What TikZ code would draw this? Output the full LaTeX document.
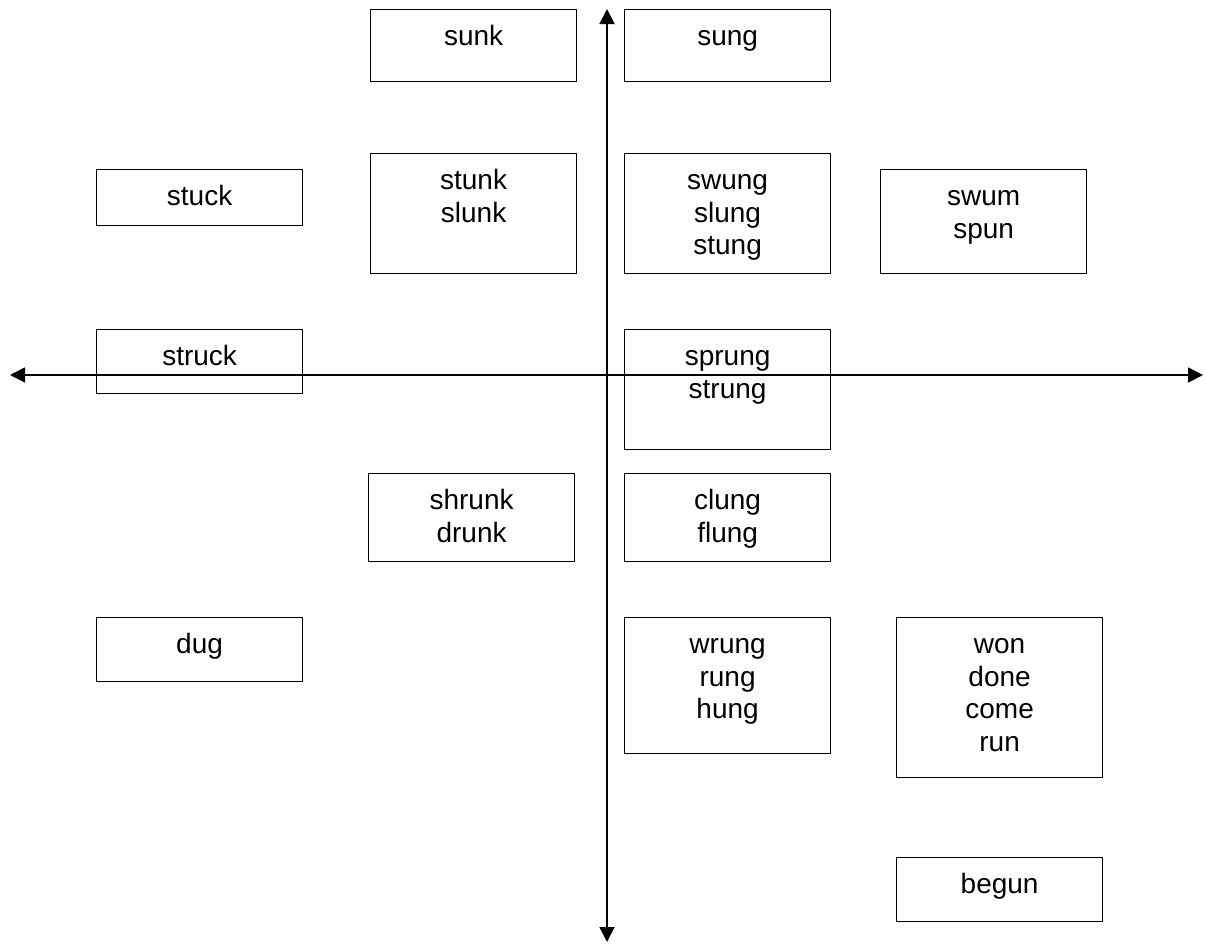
\documentclass[tikz,border=0pt]{standalone}
\usepackage{fontspec}
\setmainfont{Liberation Sans}
\usetikzlibrary{arrows.meta}
\tikzset{
  x=1pt, y=-1pt,
  wordbox/.style={draw=black, line width=1.2pt, inner sep=0pt, anchor=north west},
  words/.style={anchor=base, inner sep=0pt, font=\fontsize{28}{32.5}\selectfont},
  axis/.style={line width=1.8pt, {Triangle[length=15pt,width=15pt]}-{Triangle[length=15pt,width=15pt]}}
}
% box: name, top-left x, top-left y, width, height, lines
\newcommand{\wordbox}[6]{%
  \node[wordbox, minimum width=#4pt, minimum height=#5pt] (#1) at (#2,#3) {};
  \node[words] (#1-text) at ([yshift=-36.5pt]#1.north) {\begin{tabular}[t]{@{}c@{}}#6\end{tabular}};
}
\begin{document}
\begin{tikzpicture}
\useasboundingbox (0,0) rectangle (1206,945);
\fill[white] (0,0) rectangle (1206,945);

\wordbox{sunk}{370}{9}{206}{72}{sunk}
\wordbox{sung}{624}{9}{206}{72}{sung}
\wordbox{stuck}{96}{169}{206}{56}{stuck}
\wordbox{stunk}{370}{153}{206}{120}{stunk\\slunk}
\wordbox{swung}{624}{153}{206}{120}{swung\\slung\\stung}
\wordbox{swum}{880}{169}{206}{104}{swum\\spun}
\wordbox{struck}{96}{329}{206}{64}{struck}
\wordbox{sprung}{624}{329}{206}{120}{sprung\\strung}
\wordbox{shrunk}{368}{473}{206}{88}{shrunk\\drunk}
\wordbox{clung}{624}{473}{206}{88}{clung\\flung}
\wordbox{dug}{96}{617}{206}{64}{dug}
\wordbox{wrung}{624}{617}{206}{136}{wrung\\rung\\hung}
\wordbox{won}{896}{617}{206}{160}{won\\done\\come\\run}
\wordbox{begun}{896}{857}{206}{64}{begun}

% axes
\coordinate (west) at (10,375);
\coordinate (east) at (1203,375);
\coordinate (north) at (607,9);
\coordinate (south) at (607,942);
\draw[axis] (west) -- (east);
\draw[axis] (south) -- (north);
\end{tikzpicture}
\end{document}
